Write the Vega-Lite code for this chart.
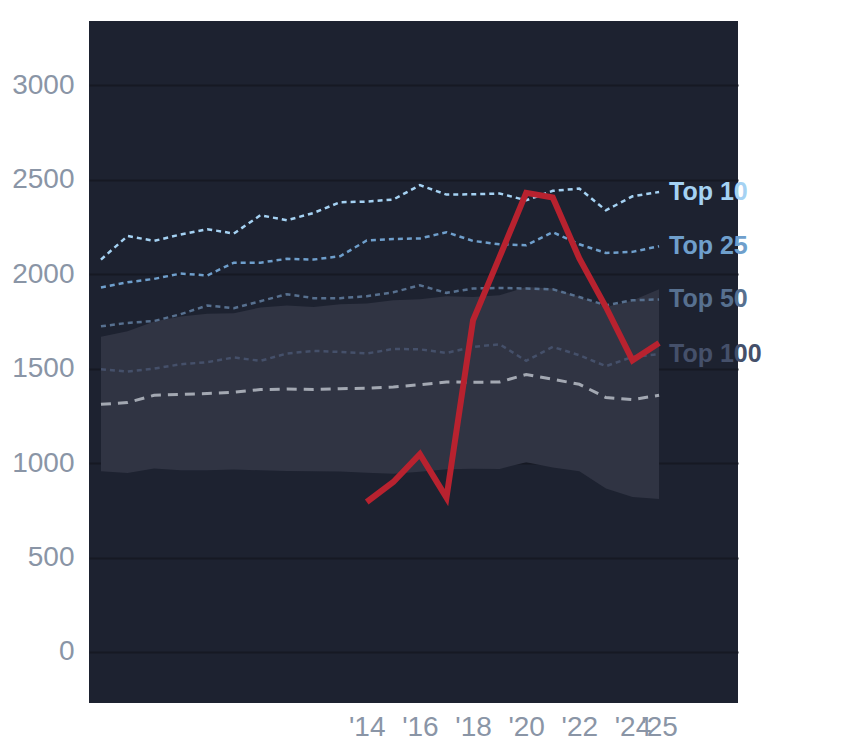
{
  "$schema": "https://vega.github.io/schema/vega-lite/v6.json",
  "description": "Ranking tiers over time with one player's line",
  "autosize": "none",
  "padding": {"left": 89, "top": 21, "right": 106, "bottom": 45},
  "width": 649,
  "height": 682,
  "background": "#ffffff",
  "config": {
    "view": {"fill": "#1d2230", "stroke": null},
    "font": "Liberation Sans",
    "axis": {
      "labelFont": "Liberation Sans",
      "labelFontSize": 28,
      "labelColor": "#8a95a6",
      "domain": false,
      "ticks": false,
      "title": null
    }
  },
  "datasets": {
    "band": [
      {"year": 2004, "lo": 957, "hi": 1668},
      {"year": 2005, "lo": 948, "hi": 1698},
      {"year": 2006, "lo": 971, "hi": 1750},
      {"year": 2007, "lo": 962, "hi": 1776},
      {"year": 2008, "lo": 962, "hi": 1790},
      {"year": 2009, "lo": 966, "hi": 1793},
      {"year": 2010, "lo": 962, "hi": 1824},
      {"year": 2011, "lo": 958, "hi": 1834},
      {"year": 2012, "lo": 957, "hi": 1826},
      {"year": 2013, "lo": 955, "hi": 1841},
      {"year": 2014, "lo": 949, "hi": 1844},
      {"year": 2015, "lo": 943, "hi": 1862},
      {"year": 2016, "lo": 954, "hi": 1867},
      {"year": 2017, "lo": 967, "hi": 1883},
      {"year": 2018, "lo": 970, "hi": 1879},
      {"year": 2019, "lo": 969, "hi": 1888},
      {"year": 2020, "lo": 1004, "hi": 1932},
      {"year": 2021, "lo": 976, "hi": 1924},
      {"year": 2022, "lo": 957, "hi": 1880},
      {"year": 2023, "lo": 865, "hi": 1826},
      {"year": 2024, "lo": 821, "hi": 1860},
      {"year": 2025, "lo": 810, "hi": 1920}
    ],
    "median": [
      {"year": 2004, "value": 1311},
      {"year": 2005, "value": 1320},
      {"year": 2006, "value": 1359},
      {"year": 2007, "value": 1364},
      {"year": 2008, "value": 1368},
      {"year": 2009, "value": 1375},
      {"year": 2010, "value": 1389},
      {"year": 2011, "value": 1392},
      {"year": 2012, "value": 1389},
      {"year": 2013, "value": 1394},
      {"year": 2014, "value": 1396},
      {"year": 2015, "value": 1403},
      {"year": 2016, "value": 1415},
      {"year": 2017, "value": 1429},
      {"year": 2018, "value": 1428},
      {"year": 2019, "value": 1429},
      {"year": 2020, "value": 1469},
      {"year": 2021, "value": 1444},
      {"year": 2022, "value": 1417},
      {"year": 2023, "value": 1347},
      {"year": 2024, "value": 1336},
      {"year": 2025, "value": 1359}
    ],
    "tiers": [
      {"year": 2004, "tier": "Top 10", "value": 2077},
      {"year": 2005, "tier": "Top 10", "value": 2202},
      {"year": 2006, "tier": "Top 10", "value": 2176},
      {"year": 2007, "tier": "Top 10", "value": 2210},
      {"year": 2008, "tier": "Top 10", "value": 2238},
      {"year": 2009, "tier": "Top 10", "value": 2215},
      {"year": 2010, "tier": "Top 10", "value": 2312},
      {"year": 2011, "tier": "Top 10", "value": 2285},
      {"year": 2012, "tier": "Top 10", "value": 2324},
      {"year": 2013, "tier": "Top 10", "value": 2381},
      {"year": 2014, "tier": "Top 10", "value": 2384},
      {"year": 2015, "tier": "Top 10", "value": 2395},
      {"year": 2016, "tier": "Top 10", "value": 2471},
      {"year": 2017, "tier": "Top 10", "value": 2421},
      {"year": 2018, "tier": "Top 10", "value": 2423},
      {"year": 2019, "tier": "Top 10", "value": 2427},
      {"year": 2020, "tier": "Top 10", "value": 2391},
      {"year": 2021, "tier": "Top 10", "value": 2441},
      {"year": 2022, "tier": "Top 10", "value": 2453},
      {"year": 2023, "tier": "Top 10", "value": 2338},
      {"year": 2024, "tier": "Top 10", "value": 2412},
      {"year": 2025, "tier": "Top 10", "value": 2435},
      {"year": 2004, "tier": "Top 25", "value": 1929},
      {"year": 2005, "tier": "Top 25", "value": 1957},
      {"year": 2006, "tier": "Top 25", "value": 1975},
      {"year": 2007, "tier": "Top 25", "value": 2003},
      {"year": 2008, "tier": "Top 25", "value": 1993},
      {"year": 2009, "tier": "Top 25", "value": 2061},
      {"year": 2010, "tier": "Top 25", "value": 2061},
      {"year": 2011, "tier": "Top 25", "value": 2081},
      {"year": 2012, "tier": "Top 25", "value": 2077},
      {"year": 2013, "tier": "Top 25", "value": 2095},
      {"year": 2014, "tier": "Top 25", "value": 2178},
      {"year": 2015, "tier": "Top 25", "value": 2186},
      {"year": 2016, "tier": "Top 25", "value": 2189},
      {"year": 2017, "tier": "Top 25", "value": 2222},
      {"year": 2018, "tier": "Top 25", "value": 2176},
      {"year": 2019, "tier": "Top 25", "value": 2158},
      {"year": 2020, "tier": "Top 25", "value": 2153},
      {"year": 2021, "tier": "Top 25", "value": 2222},
      {"year": 2022, "tier": "Top 25", "value": 2158},
      {"year": 2023, "tier": "Top 25", "value": 2112},
      {"year": 2024, "tier": "Top 25", "value": 2118},
      {"year": 2025, "tier": "Top 25", "value": 2148},
      {"year": 2004, "tier": "Top 50", "value": 1724},
      {"year": 2005, "tier": "Top 50", "value": 1742},
      {"year": 2006, "tier": "Top 50", "value": 1752},
      {"year": 2007, "tier": "Top 50", "value": 1788},
      {"year": 2008, "tier": "Top 50", "value": 1834},
      {"year": 2009, "tier": "Top 50", "value": 1820},
      {"year": 2010, "tier": "Top 50", "value": 1857},
      {"year": 2011, "tier": "Top 50", "value": 1894},
      {"year": 2012, "tier": "Top 50", "value": 1873},
      {"year": 2013, "tier": "Top 50", "value": 1873},
      {"year": 2014, "tier": "Top 50", "value": 1883},
      {"year": 2015, "tier": "Top 50", "value": 1904},
      {"year": 2016, "tier": "Top 50", "value": 1941},
      {"year": 2017, "tier": "Top 50", "value": 1901},
      {"year": 2018, "tier": "Top 50", "value": 1924},
      {"year": 2019, "tier": "Top 50", "value": 1927},
      {"year": 2020, "tier": "Top 50", "value": 1924},
      {"year": 2021, "tier": "Top 50", "value": 1920},
      {"year": 2022, "tier": "Top 50", "value": 1879},
      {"year": 2023, "tier": "Top 50", "value": 1835},
      {"year": 2024, "tier": "Top 50", "value": 1862},
      {"year": 2025, "tier": "Top 50", "value": 1866},
      {"year": 2004, "tier": "Top 100", "value": 1497},
      {"year": 2005, "tier": "Top 100", "value": 1484},
      {"year": 2006, "tier": "Top 100", "value": 1500},
      {"year": 2007, "tier": "Top 100", "value": 1523},
      {"year": 2008, "tier": "Top 100", "value": 1534},
      {"year": 2009, "tier": "Top 100", "value": 1559},
      {"year": 2010, "tier": "Top 100", "value": 1541},
      {"year": 2011, "tier": "Top 100", "value": 1580},
      {"year": 2012, "tier": "Top 100", "value": 1594},
      {"year": 2013, "tier": "Top 100", "value": 1588},
      {"year": 2014, "tier": "Top 100", "value": 1580},
      {"year": 2015, "tier": "Top 100", "value": 1604},
      {"year": 2016, "tier": "Top 100", "value": 1602},
      {"year": 2017, "tier": "Top 100", "value": 1583},
      {"year": 2018, "tier": "Top 100", "value": 1615},
      {"year": 2019, "tier": "Top 100", "value": 1629},
      {"year": 2020, "tier": "Top 100", "value": 1541},
      {"year": 2021, "tier": "Top 100", "value": 1615},
      {"year": 2022, "tier": "Top 100", "value": 1571},
      {"year": 2023, "tier": "Top 100", "value": 1513},
      {"year": 2024, "tier": "Top 100", "value": 1562},
      {"year": 2025, "tier": "Top 100", "value": 1576}
    ],
    "player": [
      {"year": 2014, "value": 794},
      {"year": 2015, "value": 900},
      {"year": 2016, "value": 1047},
      {"year": 2017, "value": 817},
      {"year": 2018, "value": 1756},
      {"year": 2019, "value": 2091},
      {"year": 2020, "value": 2430},
      {"year": 2021, "value": 2406},
      {"year": 2022, "value": 2083},
      {"year": 2023, "value": 1826},
      {"year": 2024, "value": 1544},
      {"year": 2025, "value": 1636}
    ]
  },
  "encoding": {
    "x": {
      "field": "year",
      "type": "quantitative",
      "scale": {"domain": [2003.55, 2027.97], "nice": false, "zero": false},
      "axis": {
        "values": [2014, 2016, 2018, 2020, 2022, 2024, 2025],
        "labelExpr": "\"'\" + substring(toString(datum.value), 2)",
        "grid": false,
        "labelPadding": 10,
        "labelFlush": false,
        "labelOverlap": false
      }
    },
    "y": {
      "type": "quantitative",
      "scale": {"domain": [-270, 3340], "nice": false, "zero": false},
      "axis": {
        "values": [0, 500, 1000, 1500, 2000, 2500, 3000],
        "format": "d",
        "grid": true,
        "gridColor": "#161923",
        "gridWidth": 2,
        "labelPadding": 15
      }
    }
  },
  "layer": [
    {
      "data": {"name": "band"},
      "mark": {"type": "area", "color": "#303443", "opacity": 1},
      "encoding": {
        "y": {"field": "lo", "type": "quantitative"},
        "y2": {"field": "hi"}
      }
    },
    {
      "data": {"name": "median"},
      "mark": {"type": "line", "color": "#a3a8b2", "strokeWidth": 3, "strokeDash": [10, 7]},
      "encoding": {"y": {"field": "value", "type": "quantitative"}}
    },
    {
      "data": {"name": "tiers"},
      "mark": {"type": "line", "strokeWidth": 2.5, "strokeDash": [5, 4]},
      "encoding": {
        "y": {"field": "value", "type": "quantitative"},
        "detail": {"field": "tier"},
        "color": {
          "field": "tier",
          "type": "nominal",
          "scale": {
            "domain": ["Top 10", "Top 25", "Top 50", "Top 100"],
            "range": ["#a5d2f3", "#6f9fcc", "#57708f", "#45506a"]
          },
          "legend": null
        }
      }
    },
    {
      "data": {"name": "player"},
      "mark": {"type": "line", "color": "#b8222f", "strokeWidth": 6},
      "encoding": {"y": {"field": "value", "type": "quantitative"}}
    },
    {
      "data": {"name": "tiers"},
      "transform": [{"filter": "datum.year === 2025"}],
      "mark": {
        "type": "text",
        "clip": false,
        "align": "left",
        "baseline": "middle",
        "dx": 10,
        "fontSize": 25,
        "fontWeight": "bold",
        "font": "Liberation Sans"
      },
      "encoding": {
        "y": {"field": "value", "type": "quantitative"},
        "text": {"field": "tier"},
        "color": {
          "field": "tier",
          "type": "nominal",
          "scale": {
            "domain": ["Top 10", "Top 25", "Top 50", "Top 100"],
            "range": ["#a8d6fb", "#6fa0cf", "#56698a", "#3e4a60"]
          },
          "legend": null
        }
      }
    }
  ]
}
